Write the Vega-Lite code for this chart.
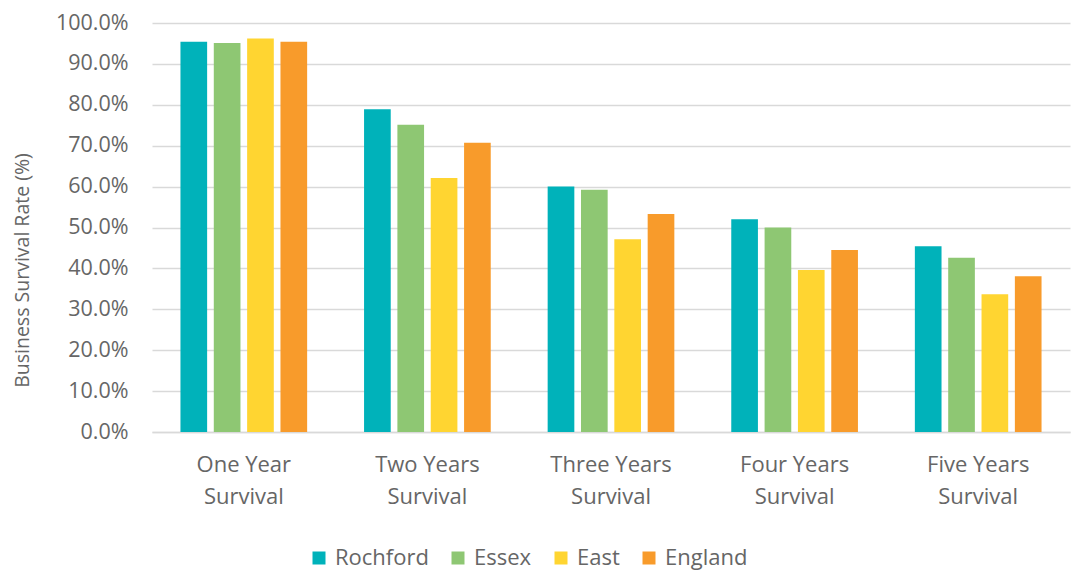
{
  "$schema": "https://vega.github.io/schema/vega-lite/v6.json",
  "width": 918,
  "height": 409,
  "autosize": {"type": "none"},
  "padding": {"left": 152, "top": 23, "right": 3, "bottom": 140},
  "background": "white",
  "config": {
    "font": "Open Sans",
    "view": {"stroke": null},
    "axis": {"labelFont": "Open Sans", "titleFont": "Open Sans", "labelColor": "#666666", "titleColor": "#666666"}
  },
  "data": {
    "values": [
      {"period": "One Year Survival", "area": "Rochford", "rate": 0.954},
      {"period": "One Year Survival", "area": "Essex", "rate": 0.951},
      {"period": "One Year Survival", "area": "East", "rate": 0.962},
      {"period": "One Year Survival", "area": "England", "rate": 0.954},
      {"period": "Two Years Survival", "area": "Rochford", "rate": 0.789},
      {"period": "Two Years Survival", "area": "Essex", "rate": 0.751},
      {"period": "Two Years Survival", "area": "East", "rate": 0.621},
      {"period": "Two Years Survival", "area": "England", "rate": 0.707},
      {"period": "Three Years Survival", "area": "Rochford", "rate": 0.600},
      {"period": "Three Years Survival", "area": "Essex", "rate": 0.592},
      {"period": "Three Years Survival", "area": "East", "rate": 0.471},
      {"period": "Three Years Survival", "area": "England", "rate": 0.533},
      {"period": "Four Years Survival", "area": "Rochford", "rate": 0.520},
      {"period": "Four Years Survival", "area": "Essex", "rate": 0.500},
      {"period": "Four Years Survival", "area": "East", "rate": 0.396},
      {"period": "Four Years Survival", "area": "England", "rate": 0.445},
      {"period": "Five Years Survival", "area": "Rochford", "rate": 0.454},
      {"period": "Five Years Survival", "area": "Essex", "rate": 0.426},
      {"period": "Five Years Survival", "area": "East", "rate": 0.337},
      {"period": "Five Years Survival", "area": "England", "rate": 0.381}
    ]
  },
  "mark": {"type": "bar"},
  "encoding": {
    "x": {
      "field": "period",
      "type": "nominal",
      "sort": ["One Year Survival", "Two Years Survival", "Three Years Survival", "Four Years Survival", "Five Years Survival"],
      "scale": {"paddingInner": 0.31, "paddingOuter": 0.155},
      "axis": {
        "title": null,
        "labelAngle": 0,
        "labelFontSize": 22,
        "labelLineHeight": 32,
        "labelPadding": 22,
        "labelBaseline": "top",
        "labelOverlap": false,
        "ticks": false,
        "domain": true,
        "domainColor": "#d9d9d9",
        "domainWidth": 1.5,
        "labelExpr": "[replace(datum.value, ' Survival', ''), 'Survival']"
      }
    },
    "xOffset": {
      "field": "area",
      "type": "nominal",
      "sort": ["Rochford", "Essex", "East", "England"],
      "scale": {"paddingInner": 0.2, "paddingOuter": 0}
    },
    "y": {
      "field": "rate",
      "type": "quantitative",
      "scale": {"domain": [0, 1], "nice": false},
      "axis": {
        "title": "Business Survival Rate (%)",
        "titleFontSize": 19.5,
        "titleFontWeight": "normal",
        "titleX": -130,
        "titleY": 247,
        "titleAngle": -90,
        "titleAlign": "center",
        "titleBaseline": "middle",
        "format": ".1%",
        "values": [0, 0.1, 0.2, 0.3, 0.4, 0.5, 0.6, 0.7, 0.8, 0.9, 1.0],
        "labelOverlap": false,
        "labelFontSize": 21.5,
        "labelPadding": 24,
        "ticks": false,
        "domain": false,
        "grid": true,
        "gridColor": "#d9d9d9",
        "gridWidth": 1.5
      }
    },
    "color": {
      "field": "area",
      "type": "nominal",
      "sort": ["Rochford", "Essex", "East", "England"],
      "scale": {
        "domain": ["Rochford", "Essex", "East", "England"],
        "range": ["#00B2BA", "#8EC773", "#FFD531", "#F89B2B"]
      },
      "legend": {
        "title": null,
        "orient": "none",
        "direction": "horizontal",
        "legendX": 156,
        "legendY": 524,
        "symbolType": "square",
        "symbolSize": 169,
        "symbolStrokeWidth": 0,
        "labelFontSize": 22,
        "labelColor": "#666666",
        "labelFont": "Open Sans",
        "labelOffset": 5,
        "columnPadding": 18
      }
    }
  }
}
